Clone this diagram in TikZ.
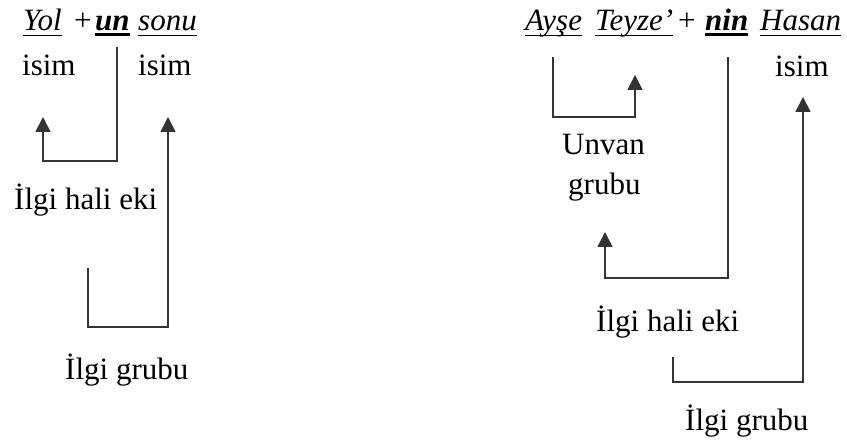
\documentclass[tikz,border=0pt]{standalone}
\usepackage{fontspec}
\setmainfont{Liberation Serif}
\usetikzlibrary{arrows.meta}
\newcommand{\ulw}[2]{\setbox0=\hbox{#2}\rlap{\rule[-5pt]{\wd0}{#1}}\box0}
\begin{document}
\begin{tikzpicture}[x=1pt,y=-1pt,
  txt/.style={anchor=base west,inner sep=0pt,font=\fontsize{31}{36}\selectfont},
  conn/.style={draw=black!80,line width=1.6pt},
  arr/.style={conn,-{Triangle[width=15pt,length=15pt]}}]
\useasboundingbox (0,0) rectangle (847,443);
% left group
\node[txt] (yol)  at (23,31)  {\ulw{1.2pt}{\textit{Yol}}};
\node[txt] (plA)  at (74,31)  {+};
\node[txt] (un)   at (95,31)  {\ulw{2.6pt}{\textbf{\textit{un}}}};
\node[txt] (sonu) at (138,31) {\ulw{1.2pt}{\textit{sonu}}};
\node[txt] (isimA) at (22,76) {isim};
\node[txt] (isimB) at (138,76) {isim};
\node[txt] (ihA) at (14,210) {İlgi hali eki};
\node[txt] (igA) at (65,380) {İlgi grubu};
\coordinate (a1) at (117,47);
\coordinate (a2) at (117,161);
\coordinate (a3) at (43,161);
\coordinate (a4) at (43,117);
\draw[arr] (a1) -- (a2) -- (a3) -- (a4);
\coordinate (b1) at (88,268);
\coordinate (b2) at (88,327);
\coordinate (b3) at (168,327);
\coordinate (b4) at (168,117);
\draw[arr] (b1) -- (b2) -- (b3) -- (b4);
% right group
\node[txt] (ayse)  at (525,31) {\ulw{1.2pt}{\textit{Ayşe}}};
\node[txt] (teyze) at (595,31) {\ulw{1.2pt}{\textit{Teyze'}}};
\node[txt] (plB)   at (678,31) {+};
\node[txt] (nin)   at (705,31) {\ulw{2.6pt}{\textbf{\textit{nin}}}};
\node[txt] (hasan) at (760,31) {\ulw{1.2pt}{\textit{Hasan}}};
\node[txt] (isimC) at (775,77) {isim};
\node[txt] (unvan) at (562,155) {Unvan};
\node[txt] (grubu) at (568,195) {grubu};
\node[txt] (ihB) at (596,332) {İlgi hali eki};
\node[txt] (igB) at (685,431) {İlgi grubu};
\coordinate (c1) at (553,57);
\coordinate (c2) at (553,117);
\coordinate (c3) at (635,117);
\coordinate (c4) at (635,75);
\draw[arr] (c1) -- (c2) -- (c3) -- (c4);
\coordinate (d1) at (728,57);
\coordinate (d2) at (728,278);
\coordinate (d3) at (605,278);
\coordinate (d4) at (605,232);
\draw[arr] (d1) -- (d2) -- (d3) -- (d4);
\coordinate (e1) at (673,357);
\coordinate (e2) at (673,382);
\coordinate (e3) at (803,382);
\coordinate (e4) at (803,97);
\draw[arr] (e1) -- (e2) -- (e3) -- (e4);
\end{tikzpicture}
\end{document}
